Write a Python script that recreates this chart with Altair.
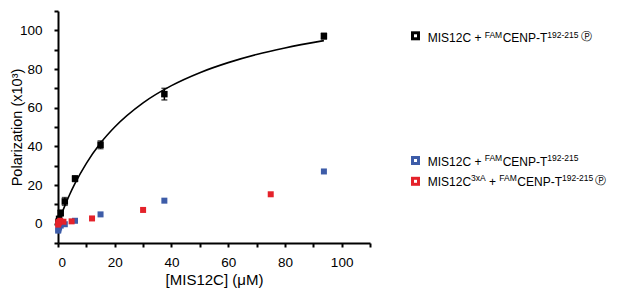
import altair as alt
import pandas as pd

# ---- data ----
conc_black = [93.75, 37.5, 15, 6, 2.4, 0.96, 0.38, 0.15]
pol_black = [97.0, 67.0, 40.8, 23.3, 11.5, 5.5, 2.5, 1.0]
err_black = [1.5, 3.0, 2.0, 1.5, 2.0, 1.5, 1.0, 1.0]

conc_blue = [93.75, 37.5, 15, 6, 2.4, 0.96, 0.38, 0.15, 0.06]
pol_blue = [27.0, 11.9, 4.8, 1.5, -0.3, -1.0, -2.0, -3.0, -3.6]

conc_red = [75, 30, 12, 4.8, 1.92, 0.77, 0.31, 0.12, 0.05]
pol_red = [15.2, 7.1, 2.7, 1.2, 1.0, 1.5, 0.5, 0.8, -0.5]

fit_x = [0, 1, 2, 4, 6, 10, 15, 20, 30, 40, 50, 60, 70, 80, 93.75]
fit_y = [0, 4.0, 7.8, 14.7, 20.8, 31.2, 41.7, 50.0, 62.5, 71.4, 78.1, 83.3, 87.5, 90.9, 94.7]

x_ticks = list(range(0, 111, 10))
y_ticks = list(range(-10, 111, 10))

BLACK = "#000000"
BLUE = "#3d5ca8"
RED = "#e4222a"
FONT = "Liberation Sans"

df_black = pd.DataFrame({"x": conc_black, "y": pol_black})
df_lo = pd.DataFrame({"x": conc_black, "y": [p - e for p, e in zip(pol_black, err_black)],
                      "hi": [p + e for p, e in zip(pol_black, err_black)]})
df_hi = pd.DataFrame({"x": conc_black, "y": [p + e for p, e in zip(pol_black, err_black)]})
df_blue = pd.DataFrame({"x": conc_blue, "y": pol_blue})
df_red = pd.DataFrame({"x": conc_red, "y": pol_red})
df_fit = pd.DataFrame({"x": fit_x, "y": fit_y})

W, H = 312, 232
xs = alt.Scale(domain=[0, 110], nice=False, zero=False)
ys = alt.Scale(domain=[-10, 110], nice=False, zero=False)

lab = "datum.value % 20 === 0 ? datum.label : ''"
xaxis = alt.Axis(values=x_ticks, labelExpr=lab, title="[MIS12C] (μM)", grid=False,
                 labelOverlap=False, labelPadding=8, titlePadding=4)
yaxis = alt.Axis(values=y_ticks, labelExpr=lab, title="Polarization (x10³)", grid=False,
                 labelOverlap=False, labelPadding=12, titlePadding=-5, titleFontSize=14.5)

X = alt.X("x:Q", scale=xs, axis=xaxis)
Y = alt.Y("y:Q", scale=ys, axis=yaxis)

fit = alt.Chart(df_fit).mark_line(color=BLACK, strokeWidth=1.6, interpolate="monotone").encode(x=X, y=Y)
err_rule = alt.Chart(df_lo).mark_rule(color=BLACK, strokeWidth=1.5).encode(x=X, y=Y, y2="hi:Q")
err_lo = alt.Chart(df_lo).mark_tick(color=BLACK, thickness=1.5, size=6, orient="horizontal").encode(x=X, y=Y)
err_hi = alt.Chart(df_hi).mark_tick(color=BLACK, thickness=1.5, size=6, orient="horizontal").encode(x=X, y=Y)
pts_black = alt.Chart(df_black).mark_square(size=42, color=BLACK, opacity=1).encode(x=X, y=Y)
pts_blue = alt.Chart(df_blue).mark_square(size=36, color=BLUE, opacity=1).encode(x=X, y=Y)
pts_red = alt.Chart(df_red).mark_square(size=36, color=RED, opacity=1).encode(x=X, y=Y)

# ---- custom legend (text with superscripts) ----
legend_colors = [BLACK, BLUE, RED]
legend_segments = [
    [("MIS12C", "main"), (" ", "gap"), ("+", "main"), (" ", "gap"), ("FAM", "sup"), ("CENP-T", "main"),
     ("192-215", "sup"), ("Ⓟ", "p")],
    [("MIS12C", "main"), (" ", "gap"), ("+", "main"), (" ", "gap"), ("FAM", "sup"), ("CENP-T", "main"),
     ("192-215", "sup")],
    [("MIS12C", "main"), ("3xA", "sup"), (" ", "gap"), ("+", "main"), (" ", "gap"), ("FAM", "sup"),
     ("CENP-T", "main"), ("192-215", "sup"), ("Ⓟ", "p")],
]

# Arial/Liberation Sans advance widths (per 1000 em) used to chain the segments
WID = {'M': 833, 'I': 278, 'S': 667, '1': 556, '2': 556, 'C': 722, '+': 584, ' ': 278,
       'F': 611, 'A': 667, 'E': 667, 'N': 722, 'P': 667, '-': 333, 'T': 611, '9': 556,
       '5': 556, '3': 556, 'x': 500}


def tw(s, size):
    return sum(WID.get(c, 556) for c in s) * size / 1000.0


marker_y = [24.8, 149.5, 170.3]
base_y = [31.0, 154.5, 174.5]
MAIN, SUP, PS = 12, 8.5, 10.5
one = pd.DataFrame({"a": [0]})

legend_layers = []
for col, segs, my, by in zip(legend_colors, legend_segments, marker_y, base_y):
    legend_layers.append(alt.Chart(one).mark_square(size=81, color=col, opacity=1)
                         .encode(x=alt.value(357.5), y=alt.value(my)))
    legend_layers.append(alt.Chart(one).mark_square(size=9, color="white", opacity=1)
                         .encode(x=alt.value(357.5), y=alt.value(my)))
    cx = 369.7
    for txt, kind in segs:
        if kind == "gap":
            cx += tw(txt, MAIN)
        elif kind == "main":
            m = alt.Chart(one).mark_text(text=txt, font=FONT, fontSize=MAIN, align="left",
                                         baseline="alphabetic", color="black")
            legend_layers.append(m.encode(x=alt.value(cx), y=alt.value(by)))
            cx += tw(txt, MAIN)
        elif kind == "sup":
            m = alt.Chart(one).mark_text(text=txt, font=FONT, fontSize=SUP, align="left",
                                         baseline="alphabetic", color="black")
            legend_layers.append(m.encode(x=alt.value(cx), y=alt.value(by - 4.5)))
            cx += tw(txt, SUP)
        else:
            cx += 2
            m = alt.Chart(one).mark_text(text=txt, font="DejaVu Sans", fontSize=PS, align="left",
                                         baseline="middle", color="black")
            legend_layers.append(m.encode(x=alt.value(cx), y=alt.value(by - 5)))

chart = alt.layer(fit, err_rule, err_lo, err_hi, pts_black, pts_blue, pts_red, *legend_layers).properties(
    width=W, height=H,
    autosize=alt.AutoSizeParams(type="none"),
    padding={"left": 50, "top": 3, "right": 239, "bottom": 45},
).configure_view(stroke=None).configure_axis(
    domainColor="black", domainWidth=2, tickColor="black", tickWidth=2, tickSize=4,
    labelFont=FONT, labelFontSize=13.5, labelColor="black",
    titleFont=FONT, titleFontSize=15, titleFontWeight="normal", titleColor="black",
)

chart.save("out.html", embed_options={"renderer": "svg", "actions": False})
